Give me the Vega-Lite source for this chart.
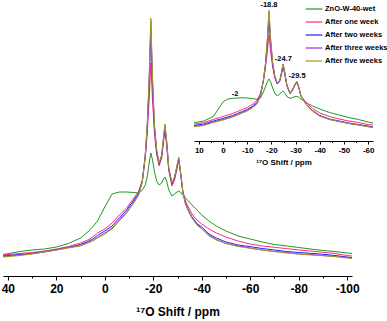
{
"$schema":"https://vega.github.io/schema/vega-lite/v6.json",
"width":349,"height":276,
"autosize":"none",
"padding":{"left":3,"top":0,"right":35,"bottom":45},
"config":{"view":{"stroke":null},"font":"Liberation Sans"},
"datasets":{
"main":[
{"s":"ZnO-W-40-wet","x":42,"y":21.5},{"s":"ZnO-W-40-wet","x":35,"y":24.5},{"s":"ZnO-W-40-wet","x":30,"y":26},{"s":"ZnO-W-40-wet","x":25,"y":27},{"s":"ZnO-W-40-wet","x":20,"y":29},{"s":"ZnO-W-40-wet","x":15,"y":32.5},{"s":"ZnO-W-40-wet","x":10,"y":38},{"s":"ZnO-W-40-wet","x":7,"y":44},{"s":"ZnO-W-40-wet","x":5,"y":49},{"s":"ZnO-W-40-wet","x":3,"y":55},{"s":"ZnO-W-40-wet","x":0,"y":69},{"s":"ZnO-W-40-wet","x":-3,"y":82},{"s":"ZnO-W-40-wet","x":-6,"y":84},{"s":"ZnO-W-40-wet","x":-9,"y":84},{"s":"ZnO-W-40-wet","x":-12,"y":83.5},{"s":"ZnO-W-40-wet","x":-14,"y":83},{"s":"ZnO-W-40-wet","x":-15.5,"y":86},{"s":"ZnO-W-40-wet","x":-16.7,"y":91},{"s":"ZnO-W-40-wet","x":-17.5,"y":99},{"s":"ZnO-W-40-wet","x":-18.3,"y":113},{"s":"ZnO-W-40-wet","x":-19,"y":123},{"s":"ZnO-W-40-wet","x":-19.7,"y":116},{"s":"ZnO-W-40-wet","x":-20.5,"y":104},{"s":"ZnO-W-40-wet","x":-21.4,"y":95},{"s":"ZnO-W-40-wet","x":-22.4,"y":91},{"s":"ZnO-W-40-wet","x":-23.5,"y":93},{"s":"ZnO-W-40-wet","x":-24.2,"y":97},{"s":"ZnO-W-40-wet","x":-24.8,"y":99},{"s":"ZnO-W-40-wet","x":-25.5,"y":95},{"s":"ZnO-W-40-wet","x":-26.4,"y":86},{"s":"ZnO-W-40-wet","x":-27.7,"y":80},{"s":"ZnO-W-40-wet","x":-28.8,"y":82},{"s":"ZnO-W-40-wet","x":-29.8,"y":84},{"s":"ZnO-W-40-wet","x":-30.5,"y":85},{"s":"ZnO-W-40-wet","x":-31.2,"y":84},{"s":"ZnO-W-40-wet","x":-32.2,"y":81},{"s":"ZnO-W-40-wet","x":-33.3,"y":78},{"s":"ZnO-W-40-wet","x":-34.5,"y":75},{"s":"ZnO-W-40-wet","x":-36,"y":71},{"s":"ZnO-W-40-wet","x":-38,"y":66},{"s":"ZnO-W-40-wet","x":-40,"y":61},{"s":"ZnO-W-40-wet","x":-43,"y":55},{"s":"ZnO-W-40-wet","x":-46,"y":50},{"s":"ZnO-W-40-wet","x":-50,"y":45},{"s":"ZnO-W-40-wet","x":-55,"y":40},{"s":"ZnO-W-40-wet","x":-60,"y":37},{"s":"ZnO-W-40-wet","x":-65,"y":34},{"s":"ZnO-W-40-wet","x":-70,"y":31.5},{"s":"ZnO-W-40-wet","x":-75,"y":30},{"s":"ZnO-W-40-wet","x":-80,"y":28.5},{"s":"ZnO-W-40-wet","x":-85,"y":27},{"s":"ZnO-W-40-wet","x":-90,"y":25.5},{"s":"ZnO-W-40-wet","x":-95,"y":24.5},{"s":"ZnO-W-40-wet","x":-100,"y":23},{"s":"ZnO-W-40-wet","x":-102,"y":22.5},
{"s":"After one week","x":42,"y":21},{"s":"After one week","x":35,"y":22.5},{"s":"After one week","x":30,"y":23.5},{"s":"After one week","x":25,"y":25},{"s":"After one week","x":20,"y":27},{"s":"After one week","x":15,"y":29.5},{"s":"After one week","x":10,"y":33},{"s":"After one week","x":7,"y":36},{"s":"After one week","x":5,"y":39},{"s":"After one week","x":3,"y":43},{"s":"After one week","x":0,"y":47},{"s":"After one week","x":-3,"y":53},{"s":"After one week","x":-6,"y":61},{"s":"After one week","x":-9,"y":68},{"s":"After one week","x":-12,"y":78},{"s":"After one week","x":-14,"y":85},{"s":"After one week","x":-15.5,"y":96},{"s":"After one week","x":-16.7,"y":118},{"s":"After one week","x":-17.5,"y":142},{"s":"After one week","x":-18.3,"y":175},{"s":"After one week","x":-19,"y":213},{"s":"After one week","x":-19.7,"y":175},{"s":"After one week","x":-20.5,"y":142},{"s":"After one week","x":-21.4,"y":121},{"s":"After one week","x":-22.4,"y":110},{"s":"After one week","x":-23.5,"y":118},{"s":"After one week","x":-24.2,"y":133},{"s":"After one week","x":-24.8,"y":146},{"s":"After one week","x":-25.5,"y":131},{"s":"After one week","x":-26.4,"y":105},{"s":"After one week","x":-27.7,"y":90},{"s":"After one week","x":-28.8,"y":96},{"s":"After one week","x":-29.8,"y":107},{"s":"After one week","x":-30.5,"y":116},{"s":"After one week","x":-31.2,"y":104},{"s":"After one week","x":-32.2,"y":85},{"s":"After one week","x":-33.3,"y":75},{"s":"After one week","x":-34.5,"y":69},{"s":"After one week","x":-36,"y":62},{"s":"After one week","x":-38,"y":56},{"s":"After one week","x":-40,"y":52},{"s":"After one week","x":-43,"y":47},{"s":"After one week","x":-46,"y":43},{"s":"After one week","x":-50,"y":39},{"s":"After one week","x":-55,"y":35},{"s":"After one week","x":-60,"y":32},{"s":"After one week","x":-65,"y":30},{"s":"After one week","x":-70,"y":28.7},{"s":"After one week","x":-75,"y":27.4},{"s":"After one week","x":-80,"y":26},{"s":"After one week","x":-85,"y":25},{"s":"After one week","x":-90,"y":23.7},{"s":"After one week","x":-95,"y":22.5},{"s":"After one week","x":-100,"y":20.5},{"s":"After one week","x":-102,"y":20},
{"s":"After two weeks","x":42,"y":20},{"s":"After two weeks","x":35,"y":21.5},{"s":"After two weeks","x":30,"y":22.5},{"s":"After two weeks","x":25,"y":24},{"s":"After two weeks","x":20,"y":26},{"s":"After two weeks","x":15,"y":28.5},{"s":"After two weeks","x":10,"y":31.5},{"s":"After two weeks","x":7,"y":34.5},{"s":"After two weeks","x":5,"y":37},{"s":"After two weeks","x":3,"y":40.5},{"s":"After two weeks","x":0,"y":45},{"s":"After two weeks","x":-3,"y":50},{"s":"After two weeks","x":-6,"y":58},{"s":"After two weeks","x":-9,"y":66},{"s":"After two weeks","x":-12,"y":76},{"s":"After two weeks","x":-14,"y":83},{"s":"After two weeks","x":-15.5,"y":95},{"s":"After two weeks","x":-16.7,"y":120},{"s":"After two weeks","x":-17.5,"y":148},{"s":"After two weeks","x":-18.3,"y":190},{"s":"After two weeks","x":-19,"y":246},{"s":"After two weeks","x":-19.7,"y":190},{"s":"After two weeks","x":-20.5,"y":148},{"s":"After two weeks","x":-21.4,"y":124},{"s":"After two weeks","x":-22.4,"y":112},{"s":"After two weeks","x":-23.5,"y":120},{"s":"After two weeks","x":-24.2,"y":136},{"s":"After two weeks","x":-24.8,"y":149},{"s":"After two weeks","x":-25.5,"y":134},{"s":"After two weeks","x":-26.4,"y":107},{"s":"After two weeks","x":-27.7,"y":92},{"s":"After two weeks","x":-28.8,"y":98},{"s":"After two weeks","x":-29.8,"y":109},{"s":"After two weeks","x":-30.5,"y":117},{"s":"After two weeks","x":-31.2,"y":104},{"s":"After two weeks","x":-32.2,"y":84},{"s":"After two weeks","x":-33.3,"y":73},{"s":"After two weeks","x":-34.5,"y":66},{"s":"After two weeks","x":-36,"y":59},{"s":"After two weeks","x":-38,"y":52.5},{"s":"After two weeks","x":-40,"y":49},{"s":"After two weeks","x":-43,"y":42},{"s":"After two weeks","x":-46,"y":38},{"s":"After two weeks","x":-50,"y":34},{"s":"After two weeks","x":-55,"y":31},{"s":"After two weeks","x":-60,"y":29.3},{"s":"After two weeks","x":-65,"y":27.5},{"s":"After two weeks","x":-70,"y":26},{"s":"After two weeks","x":-75,"y":24.5},{"s":"After two weeks","x":-80,"y":23.5},{"s":"After two weeks","x":-85,"y":22.7},{"s":"After two weeks","x":-90,"y":21.7},{"s":"After two weeks","x":-95,"y":20.5},{"s":"After two weeks","x":-100,"y":19},{"s":"After two weeks","x":-102,"y":18.5},
{"s":"After three weeks","x":42,"y":19.5},{"s":"After three weeks","x":35,"y":21},{"s":"After three weeks","x":30,"y":22.5},{"s":"After three weeks","x":25,"y":24.5},{"s":"After three weeks","x":20,"y":26.5},{"s":"After three weeks","x":15,"y":28.5},{"s":"After three weeks","x":10,"y":31},{"s":"After three weeks","x":7,"y":33.5},{"s":"After three weeks","x":5,"y":35.5},{"s":"After three weeks","x":3,"y":38.5},{"s":"After three weeks","x":0,"y":43},{"s":"After three weeks","x":-3,"y":48},{"s":"After three weeks","x":-6,"y":56},{"s":"After three weeks","x":-9,"y":64},{"s":"After three weeks","x":-12,"y":74},{"s":"After three weeks","x":-14,"y":82},{"s":"After three weeks","x":-15.5,"y":95},{"s":"After three weeks","x":-16.7,"y":121},{"s":"After three weeks","x":-17.5,"y":150},{"s":"After three weeks","x":-18.3,"y":196},{"s":"After three weeks","x":-19,"y":255},{"s":"After three weeks","x":-19.7,"y":196},{"s":"After three weeks","x":-20.5,"y":150},{"s":"After three weeks","x":-21.4,"y":126},{"s":"After three weeks","x":-22.4,"y":113},{"s":"After three weeks","x":-23.5,"y":121},{"s":"After three weeks","x":-24.2,"y":137},{"s":"After three weeks","x":-24.8,"y":151},{"s":"After three weeks","x":-25.5,"y":135},{"s":"After three weeks","x":-26.4,"y":108},{"s":"After three weeks","x":-27.7,"y":93},{"s":"After three weeks","x":-28.8,"y":99},{"s":"After three weeks","x":-29.8,"y":110},{"s":"After three weeks","x":-30.5,"y":118},{"s":"After three weeks","x":-31.2,"y":105},{"s":"After three weeks","x":-32.2,"y":84},{"s":"After three weeks","x":-33.3,"y":72},{"s":"After three weeks","x":-34.5,"y":65},{"s":"After three weeks","x":-36,"y":58},{"s":"After three weeks","x":-38,"y":51.5},{"s":"After three weeks","x":-40,"y":47.5},{"s":"After three weeks","x":-43,"y":40.5},{"s":"After three weeks","x":-46,"y":36.5},{"s":"After three weeks","x":-50,"y":32.5},{"s":"After three weeks","x":-55,"y":30},{"s":"After three weeks","x":-60,"y":28},{"s":"After three weeks","x":-65,"y":26},{"s":"After three weeks","x":-70,"y":24.5},{"s":"After three weeks","x":-75,"y":23.5},{"s":"After three weeks","x":-80,"y":22},{"s":"After three weeks","x":-85,"y":21.5},{"s":"After three weeks","x":-90,"y":20.5},{"s":"After three weeks","x":-95,"y":19.5},{"s":"After three weeks","x":-100,"y":18.5},{"s":"After three weeks","x":-102,"y":18},
{"s":"After five weeks","x":42,"y":19},{"s":"After five weeks","x":35,"y":20.5},{"s":"After five weeks","x":30,"y":22},{"s":"After five weeks","x":25,"y":24},{"s":"After five weeks","x":20,"y":26},{"s":"After five weeks","x":15,"y":28},{"s":"After five weeks","x":10,"y":30},{"s":"After five weeks","x":7,"y":33},{"s":"After five weeks","x":5,"y":35},{"s":"After five weeks","x":3,"y":38},{"s":"After five weeks","x":0,"y":42},{"s":"After five weeks","x":-3,"y":47},{"s":"After five weeks","x":-6,"y":55},{"s":"After five weeks","x":-9,"y":63},{"s":"After five weeks","x":-12,"y":73},{"s":"After five weeks","x":-14,"y":81},{"s":"After five weeks","x":-15.5,"y":94},{"s":"After five weeks","x":-16.7,"y":121},{"s":"After five weeks","x":-17.5,"y":151},{"s":"After five weeks","x":-18.3,"y":198},{"s":"After five weeks","x":-19,"y":258},{"s":"After five weeks","x":-19.7,"y":198},{"s":"After five weeks","x":-20.5,"y":151},{"s":"After five weeks","x":-21.4,"y":126},{"s":"After five weeks","x":-22.4,"y":113},{"s":"After five weeks","x":-23.5,"y":121},{"s":"After five weeks","x":-24.2,"y":138},{"s":"After five weeks","x":-24.8,"y":152},{"s":"After five weeks","x":-25.5,"y":136},{"s":"After five weeks","x":-26.4,"y":108},{"s":"After five weeks","x":-27.7,"y":93},{"s":"After five weeks","x":-28.8,"y":99},{"s":"After five weeks","x":-29.8,"y":111},{"s":"After five weeks","x":-30.5,"y":119},{"s":"After five weeks","x":-31.2,"y":106},{"s":"After five weeks","x":-32.2,"y":84},{"s":"After five weeks","x":-33.3,"y":72},{"s":"After five weeks","x":-34.5,"y":65},{"s":"After five weeks","x":-36,"y":58},{"s":"After five weeks","x":-38,"y":51},{"s":"After five weeks","x":-40,"y":47},{"s":"After five weeks","x":-43,"y":40},{"s":"After five weeks","x":-46,"y":36},{"s":"After five weeks","x":-50,"y":32.5},{"s":"After five weeks","x":-55,"y":29.5},{"s":"After five weeks","x":-60,"y":27.7},{"s":"After five weeks","x":-65,"y":26},{"s":"After five weeks","x":-70,"y":24.5},{"s":"After five weeks","x":-75,"y":23},{"s":"After five weeks","x":-80,"y":22},{"s":"After five weeks","x":-85,"y":21},{"s":"After five weeks","x":-90,"y":20.3},{"s":"After five weeks","x":-95,"y":19.5},{"s":"After five weeks","x":-100,"y":18},{"s":"After five weeks","x":-102,"y":17.5}
],
"inset":[
{"s":"ZnO-W-40-wet","x":12,"y":18.3},{"s":"ZnO-W-40-wet","x":8,"y":20},{"s":"ZnO-W-40-wet","x":4,"y":24.5},{"s":"ZnO-W-40-wet","x":0,"y":39},{"s":"ZnO-W-40-wet","x":-2,"y":42},{"s":"ZnO-W-40-wet","x":-4,"y":42.7},{"s":"ZnO-W-40-wet","x":-6,"y":43},{"s":"ZnO-W-40-wet","x":-8,"y":43.3},{"s":"ZnO-W-40-wet","x":-10,"y":43},{"s":"ZnO-W-40-wet","x":-12,"y":42.5},{"s":"ZnO-W-40-wet","x":-14,"y":41.7},{"s":"ZnO-W-40-wet","x":-15.5,"y":43},{"s":"ZnO-W-40-wet","x":-16.7,"y":49},{"s":"ZnO-W-40-wet","x":-17.5,"y":54},{"s":"ZnO-W-40-wet","x":-18.3,"y":59},{"s":"ZnO-W-40-wet","x":-19,"y":62},{"s":"ZnO-W-40-wet","x":-19.7,"y":59},{"s":"ZnO-W-40-wet","x":-20.5,"y":53},{"s":"ZnO-W-40-wet","x":-21.4,"y":48},{"s":"ZnO-W-40-wet","x":-22.4,"y":45},{"s":"ZnO-W-40-wet","x":-23.5,"y":47},{"s":"ZnO-W-40-wet","x":-24.2,"y":49},{"s":"ZnO-W-40-wet","x":-24.8,"y":50},{"s":"ZnO-W-40-wet","x":-25.5,"y":48},{"s":"ZnO-W-40-wet","x":-26.4,"y":44.5},{"s":"ZnO-W-40-wet","x":-27.7,"y":42.7},{"s":"ZnO-W-40-wet","x":-28.8,"y":43.5},{"s":"ZnO-W-40-wet","x":-29.8,"y":44.5},{"s":"ZnO-W-40-wet","x":-30.5,"y":44.5},{"s":"ZnO-W-40-wet","x":-31.2,"y":44},{"s":"ZnO-W-40-wet","x":-32.2,"y":42},{"s":"ZnO-W-40-wet","x":-33.5,"y":40},{"s":"ZnO-W-40-wet","x":-35,"y":37.5},{"s":"ZnO-W-40-wet","x":-37,"y":35},{"s":"ZnO-W-40-wet","x":-40,"y":32},{"s":"ZnO-W-40-wet","x":-44,"y":28.5},{"s":"ZnO-W-40-wet","x":-48,"y":26},{"s":"ZnO-W-40-wet","x":-52,"y":23.5},{"s":"ZnO-W-40-wet","x":-56,"y":21.5},{"s":"ZnO-W-40-wet","x":-60,"y":19},{"s":"ZnO-W-40-wet","x":-62,"y":18},
{"s":"After one week","x":12,"y":16.7},{"s":"After one week","x":8,"y":18.5},{"s":"After one week","x":4,"y":21.5},{"s":"After one week","x":0,"y":24.5},{"s":"After one week","x":-2,"y":26},{"s":"After one week","x":-4,"y":27.5},{"s":"After one week","x":-6,"y":29.5},{"s":"After one week","x":-8,"y":31.5},{"s":"After one week","x":-10,"y":33.5},{"s":"After one week","x":-12,"y":36.5},{"s":"After one week","x":-14,"y":40.5},{"s":"After one week","x":-15.5,"y":48},{"s":"After one week","x":-16.7,"y":60},{"s":"After one week","x":-17.5,"y":72},{"s":"After one week","x":-18.3,"y":89},{"s":"After one week","x":-19,"y":106},{"s":"After one week","x":-19.7,"y":89},{"s":"After one week","x":-20.5,"y":74},{"s":"After one week","x":-21.4,"y":63},{"s":"After one week","x":-22.4,"y":57},{"s":"After one week","x":-23.5,"y":60},{"s":"After one week","x":-24.2,"y":67},{"s":"After one week","x":-24.8,"y":74},{"s":"After one week","x":-25.5,"y":67},{"s":"After one week","x":-26.4,"y":55},{"s":"After one week","x":-27.7,"y":47.5},{"s":"After one week","x":-28.8,"y":51},{"s":"After one week","x":-29.8,"y":56},{"s":"After one week","x":-30.5,"y":58.5},{"s":"After one week","x":-31.2,"y":54.5},{"s":"After one week","x":-32.2,"y":45.5},{"s":"After one week","x":-33.5,"y":41},{"s":"After one week","x":-35,"y":37},{"s":"After one week","x":-37,"y":32.5},{"s":"After one week","x":-40,"y":28},{"s":"After one week","x":-44,"y":24.5},{"s":"After one week","x":-48,"y":22},{"s":"After one week","x":-52,"y":20},{"s":"After one week","x":-56,"y":18.5},{"s":"After one week","x":-60,"y":16.5},{"s":"After one week","x":-62,"y":16},
{"s":"After two weeks","x":12,"y":15.5},{"s":"After two weeks","x":8,"y":17},{"s":"After two weeks","x":4,"y":20},{"s":"After two weeks","x":0,"y":22.5},{"s":"After two weeks","x":-2,"y":24},{"s":"After two weeks","x":-4,"y":25.5},{"s":"After two weeks","x":-6,"y":27.5},{"s":"After two weeks","x":-8,"y":29.5},{"s":"After two weeks","x":-10,"y":31.5},{"s":"After two weeks","x":-12,"y":34.5},{"s":"After two weeks","x":-14,"y":38.5},{"s":"After two weeks","x":-15.5,"y":46},{"s":"After two weeks","x":-16.7,"y":61},{"s":"After two weeks","x":-17.5,"y":75},{"s":"After two weeks","x":-18.3,"y":97},{"s":"After two weeks","x":-19,"y":123},{"s":"After two weeks","x":-19.7,"y":97},{"s":"After two weeks","x":-20.5,"y":77},{"s":"After two weeks","x":-21.4,"y":64},{"s":"After two weeks","x":-22.4,"y":57.5},{"s":"After two weeks","x":-23.5,"y":60.5},{"s":"After two weeks","x":-24.2,"y":68},{"s":"After two weeks","x":-24.8,"y":76},{"s":"After two weeks","x":-25.5,"y":68},{"s":"After two weeks","x":-26.4,"y":55.5},{"s":"After two weeks","x":-27.7,"y":47.5},{"s":"After two weeks","x":-28.8,"y":51.5},{"s":"After two weeks","x":-29.8,"y":56.5},{"s":"After two weeks","x":-30.5,"y":59},{"s":"After two weeks","x":-31.2,"y":54.5},{"s":"After two weeks","x":-32.2,"y":45},{"s":"After two weeks","x":-33.5,"y":40},{"s":"After two weeks","x":-35,"y":35},{"s":"After two weeks","x":-37,"y":30.5},{"s":"After two weeks","x":-40,"y":25.5},{"s":"After two weeks","x":-44,"y":22},{"s":"After two weeks","x":-48,"y":20},{"s":"After two weeks","x":-52,"y":18},{"s":"After two weeks","x":-56,"y":16.5},{"s":"After two weeks","x":-60,"y":15},{"s":"After two weeks","x":-62,"y":14},
{"s":"After three weeks","x":12,"y":14.5},{"s":"After three weeks","x":8,"y":16},{"s":"After three weeks","x":4,"y":19},{"s":"After three weeks","x":0,"y":21.5},{"s":"After three weeks","x":-2,"y":23},{"s":"After three weeks","x":-4,"y":24.5},{"s":"After three weeks","x":-6,"y":26.5},{"s":"After three weeks","x":-8,"y":28.5},{"s":"After three weeks","x":-10,"y":30.5},{"s":"After three weeks","x":-12,"y":33.5},{"s":"After three weeks","x":-14,"y":37.5},{"s":"After three weeks","x":-15.5,"y":45},{"s":"After three weeks","x":-16.7,"y":61},{"s":"After three weeks","x":-17.5,"y":76},{"s":"After three weeks","x":-18.3,"y":100},{"s":"After three weeks","x":-19,"y":129},{"s":"After three weeks","x":-19.7,"y":100},{"s":"After three weeks","x":-20.5,"y":79},{"s":"After three weeks","x":-21.4,"y":65},{"s":"After three weeks","x":-22.4,"y":58},{"s":"After three weeks","x":-23.5,"y":61},{"s":"After three weeks","x":-24.2,"y":69},{"s":"After three weeks","x":-24.8,"y":77},{"s":"After three weeks","x":-25.5,"y":69},{"s":"After three weeks","x":-26.4,"y":56},{"s":"After three weeks","x":-27.7,"y":48},{"s":"After three weeks","x":-28.8,"y":52},{"s":"After three weeks","x":-29.8,"y":57},{"s":"After three weeks","x":-30.5,"y":59.5},{"s":"After three weeks","x":-31.2,"y":55},{"s":"After three weeks","x":-32.2,"y":45},{"s":"After three weeks","x":-33.5,"y":40},{"s":"After three weeks","x":-35,"y":35},{"s":"After three weeks","x":-37,"y":30},{"s":"After three weeks","x":-40,"y":25},{"s":"After three weeks","x":-44,"y":21.5},{"s":"After three weeks","x":-48,"y":19.5},{"s":"After three weeks","x":-52,"y":17.5},{"s":"After three weeks","x":-56,"y":16},{"s":"After three weeks","x":-60,"y":14.5},{"s":"After three weeks","x":-62,"y":13.5},
{"s":"After five weeks","x":12,"y":14.3},{"s":"After five weeks","x":8,"y":15.5},{"s":"After five weeks","x":4,"y":18.5},{"s":"After five weeks","x":0,"y":21},{"s":"After five weeks","x":-2,"y":22.5},{"s":"After five weeks","x":-4,"y":24},{"s":"After five weeks","x":-6,"y":26},{"s":"After five weeks","x":-8,"y":28},{"s":"After five weeks","x":-10,"y":30},{"s":"After five weeks","x":-12,"y":33},{"s":"After five weeks","x":-14,"y":37},{"s":"After five weeks","x":-15.5,"y":45},{"s":"After five weeks","x":-16.7,"y":61},{"s":"After five weeks","x":-17.5,"y":76},{"s":"After five weeks","x":-18.3,"y":101},{"s":"After five weeks","x":-19,"y":131},{"s":"After five weeks","x":-19.7,"y":101},{"s":"After five weeks","x":-20.5,"y":79},{"s":"After five weeks","x":-21.4,"y":65},{"s":"After five weeks","x":-22.4,"y":58},{"s":"After five weeks","x":-23.5,"y":61},{"s":"After five weeks","x":-24.2,"y":69},{"s":"After five weeks","x":-24.8,"y":77},{"s":"After five weeks","x":-25.5,"y":69},{"s":"After five weeks","x":-26.4,"y":56},{"s":"After five weeks","x":-27.7,"y":48},{"s":"After five weeks","x":-28.8,"y":52},{"s":"After five weeks","x":-29.8,"y":57},{"s":"After five weeks","x":-30.5,"y":59.5},{"s":"After five weeks","x":-31.2,"y":55},{"s":"After five weeks","x":-32.2,"y":45},{"s":"After five weeks","x":-33.5,"y":40},{"s":"After five weeks","x":-35,"y":35},{"s":"After five weeks","x":-37,"y":30},{"s":"After five weeks","x":-40,"y":25},{"s":"After five weeks","x":-44,"y":21.5},{"s":"After five weeks","x":-48,"y":19.5},{"s":"After five weeks","x":-52,"y":17.5},{"s":"After five weeks","x":-56,"y":16},{"s":"After five weeks","x":-60,"y":14.2},{"s":"After five weeks","x":-62,"y":13.5}
],
"labels":[
{"t":"-18.8","x":-19,"y":136},{"t":"-24.7","x":-24.9,"y":82.5},{"t":"-29.5","x":-30.6,"y":65.5},{"t":"-2","x":-5,"y":47}
]},
"resolve":{"scale":{"x":"independent","y":"independent"},"axis":{"x":"independent","y":"independent"}},
"layer":[
{"data":{"name":"main"},
"mark":{"type":"line","strokeWidth":1,"interpolate":"linear"},
"encoding":{
"x":{"field":"x","type":"quantitative","scale":{"domain":[42,-102],"nice":false,"zero":false},
"axis":{"orient":"bottom","values":[40,30,20,10,0,-10,-20,-30,-40,-50,-60,-70,-80,-90,-100],
"labelExpr":"datum.value % 20 === 0 ? ('' + datum.value) : ''",
"tickSize":{"condition":{"test":"datum.value % 20 === 0","value":4},"value":2},
"grid":false,"domainColor":"#000","tickColor":"#000","domainWidth":1,"tickWidth":1,
"labelFont":"Liberation Sans","labelFontWeight":"bold","labelFontSize":12,"labelColor":"#000","labelPadding":3,"labelFlush":false,"labelOverlap":false,
"title":"¹⁷O Shift / ppm","titleFont":"Liberation Sans","titleFontWeight":"bold","titleFontSize":12,"titleColor":"#000","titlePadding":12}},
"y":{"field":"y","type":"quantitative","scale":{"domain":[0,276],"nice":false,"zero":false},"axis":null},
"color":{"field":"s","type":"nominal","sort":null,
"scale":{"domain":["ZnO-W-40-wet","After one week","After two weeks","After three weeks","After five weeks"],
"range":["#1f9a1f","#ff2a8c","#2020f0","#a030d8","#9c9c22"]},
"legend":{"orient":"none","legendX":302,"legendY":0,"title":null,"symbolType":"stroke","symbolSize":280,"symbolStrokeWidth":1.2,
"labelFont":"Liberation Sans","labelFontWeight":"bold","labelFontSize":7.5,"labelColor":"#000","labelOffset":2,"rowPadding":-7.4}}}},
{"data":{"name":"inset"},
"mark":{"type":"line","strokeWidth":1},
"encoding":{
"x":{"field":"x","type":"quantitative","scale":{"domain":[12,-62],"range":[191,370],"nice":false,"zero":false},
"axis":{"orient":"bottom","offset":-135,"values":[10,5,0,-5,-10,-15,-20,-25,-30,-35,-40,-45,-50,-55,-60],
"labelExpr":"datum.value % 10 === 0 ? ('' + datum.value) : ''",
"tickSize":{"condition":{"test":"datum.value % 10 === 0","value":3},"value":1.5},
"grid":false,"domainColor":"#000","tickColor":"#000","domainWidth":1,"tickWidth":1,
"labelFont":"Liberation Sans","labelFontWeight":"bold","labelFontSize":8,"labelColor":"#000","labelPadding":2,"labelFlush":false,"labelOverlap":false,
"title":"¹⁷O Shift / ppm","titleFont":"Liberation Sans","titleFontWeight":"bold","titleFontSize":8,"titleColor":"#000","titlePadding":4}},
"y":{"field":"y","type":"quantitative","scale":{"domain":[0,141],"range":[141,0],"nice":false,"zero":false},"axis":null},
"color":{"field":"s","type":"nominal","sort":null}}},
{"data":{"name":"labels"},
"mark":{"type":"text","font":"Liberation Sans","fontWeight":"bold","fontSize":7.5,"color":"#000","baseline":"middle","align":"center"},
"encoding":{
"x":{"field":"x","type":"quantitative","scale":{"domain":[12,-62],"range":[191,370],"nice":false,"zero":false},"axis":null},
"y":{"field":"y","type":"quantitative","scale":{"domain":[0,141],"range":[141,0],"nice":false,"zero":false},"axis":null},
"text":{"field":"t","type":"nominal"}}}
]
}
